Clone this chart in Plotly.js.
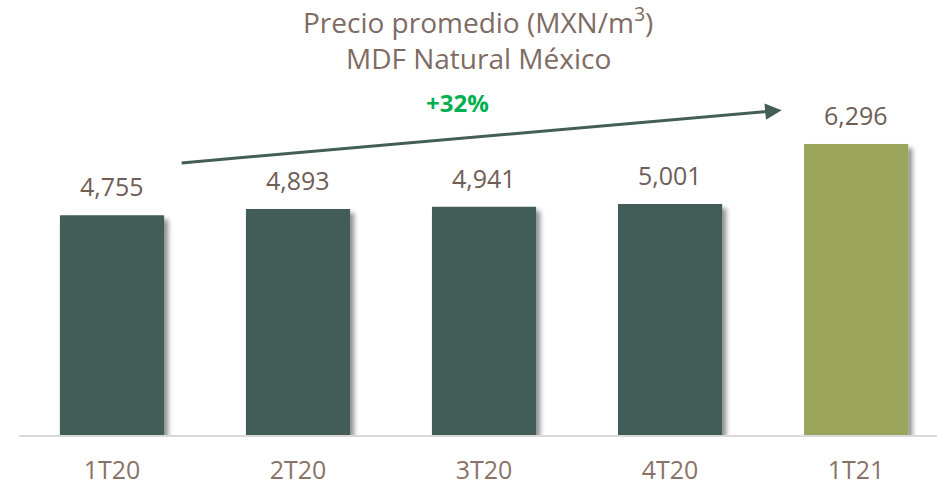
<!DOCTYPE html>
<html>
<head>
<meta charset="utf-8">
<script src="https://cdn.plot.ly/plotly-3.0.1.min.js"></script>
<style>
html,body{margin:0;padding:0;background:#fff;}
#chart{width:940px;height:488px;}
</style>
</head>
<body>
<div id="chart"></div>
<script>
const categories = ["1T20", "2T20", "3T20", "4T20", "1T21"];
const prices = [4755, 4893, 4941, 5001, 6296];
const valueLabels = ["4,755", "4,893", "4,941", "5,001", "6,296"];
const barColors = ["#435d59", "#435d59", "#435d59", "#435d59", "#9ba55b"];
const titleLines = ["Precio promedio (MXN/m<sup>3</sup>)", "MDF Natural México"];
const growthLabel = "+32%";

const FONT = "'Open Sans', 'Liberation Sans', sans-serif";
const textColor = "#7e6b63";

const trace = {
  type: "bar",
  x: categories,
  y: prices,
  marker: {color: barColors, line: {width: 0}},
  width: 0.56,
  hoverinfo: "skip",
  cliponaxis: false
};

const annotations = [];
categories.forEach((c, i) => {
  annotations.push({
    x: c, y: prices[i], xref: "x", yref: "y",
    text: valueLabels[i], showarrow: false,
    yanchor: "bottom", yshift: 10,
    font: {family: FONT, size: 25, color: "#6f5d56"}
  });
});
annotations.push({
  xref: "paper", yref: "paper", x: 0.5, y: 1.236,
  text: titleLines[0], showarrow: false, xanchor: "center", yanchor: "middle",
  font: {family: FONT, size: 28, color: textColor}
});
annotations.push({
  xref: "paper", yref: "paper", x: 0.5, y: 1.126,
  text: titleLines[1], showarrow: false, xanchor: "center", yanchor: "middle",
  font: {family: FONT, size: 28, color: textColor}
});
annotations.push({
  xref: "paper", yref: "paper", x: 0.478, y: 0.994,
  text: "<b>" + growthLabel + "</b>", showarrow: false, xanchor: "center", yanchor: "middle",
  font: {family: FONT, size: 24, color: "#00b050"}
});
// trend arrow
annotations.push({
  xref: "x", yref: "y", axref: "x", ayref: "y",
  x: 3.6, y: 7030, ax: 0.366, ay: 5887,
  text: "", showarrow: true, arrowhead: 2, arrowsize: 1.1, arrowwidth: 3,
  arrowcolor: "#435d59", standoff: 0, startstandoff: 0
});

const layout = {
  width: 940, height: 488,
  margin: {l: 19, r: 3, t: 100, b: 53},
  paper_bgcolor: "#ffffff",
  plot_bgcolor: "#ffffff",
  showlegend: false,
  xaxis: {
    type: "category",
    range: [-0.5, 4.435],
    showgrid: false, zeroline: false,
    showline: true, linecolor: "#d9d9d9", linewidth: 1.5,
    ticks: "", ticklabelstandoff: 12,
    tickfont: {family: FONT, size: 25, color: "#8a7269"},
    fixedrange: true
  },
  yaxis: {
    range: [0, 7251],
    visible: false, showgrid: false, zeroline: false,
    fixedrange: true
  },
  annotations: annotations
};

Plotly.newPlot("chart", [trace], layout, {displayModeBar: false, staticPlot: true}).then(gd => {
  const svg = gd.querySelector("svg.main-svg");
  const ns = "http://www.w3.org/2000/svg";
  let defs = svg.querySelector("defs");
  if (!defs) { defs = document.createElementNS(ns, "defs"); svg.insertBefore(defs, svg.firstChild); }
  const f = document.createElementNS(ns, "filter");
  f.setAttribute("id", "barshadow");
  f.setAttribute("x", "-20%"); f.setAttribute("y", "-20%");
  f.setAttribute("width", "150%"); f.setAttribute("height", "140%");
  f.innerHTML = '<feGaussianBlur in="SourceAlpha" stdDeviation="2.5"/>' +
    '<feOffset dx="4" dy="4" result="ob"/>' +
    '<feComponentTransfer><feFuncA type="linear" slope="0.45"/></feComponentTransfer>' +
    '<feMerge><feMergeNode/><feMergeNode in="SourceGraphic"/></feMerge>';
  defs.appendChild(f);
  gd.querySelectorAll(".trace.bars .point path").forEach(p => p.setAttribute("filter", "url(#barshadow)"));
});
</script>
</body>
</html>
